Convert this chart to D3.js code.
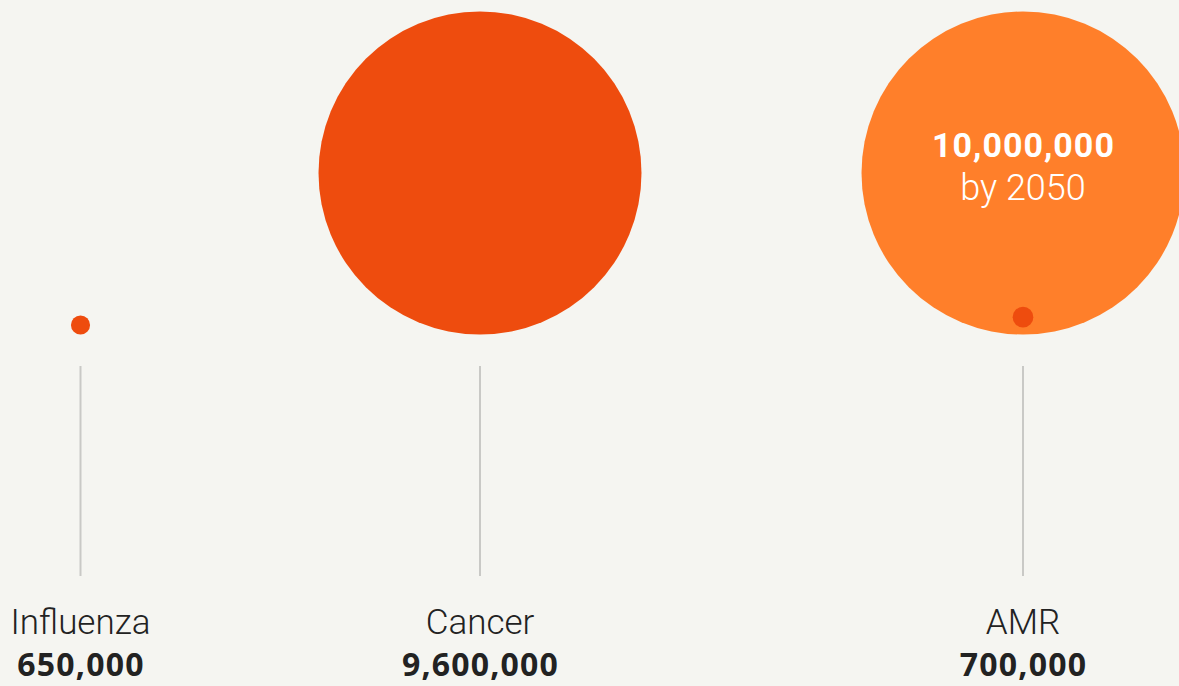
<!DOCTYPE html>
<html>
<head>
<meta charset="utf-8">
<script src="https://cdn.jsdelivr.net/npm/d3@7"></script>
<style>
  html, body { margin: 0; padding: 0; background: #f5f5f1; }
  svg { display: block; }
</style>
</head>
<body>
<div id="chart"></div>
<script>
// data
var causes = ["Influenza", "Cancer", "AMR"];
var deaths = [650000, 9600000, 700000];
var projectedCause = "AMR";
var projectedDeaths = 10000000;
var projectedLabel = "by 2050";

var svgWidth = 1179;
var svgHeight = 686;

var svg = d3.select("#chart")
  .append("svg")
  .attr("width", svgWidth)
  .attr("height", svgHeight);

var rows = causes.map(function (c, i) {
  return { cause: c, value: deaths[i] };
});

// columns are not evenly spaced in the original
var xScale = d3.scaleOrdinal()
  .domain(causes)
  .range([80.5, 480, 1023]);

// radius scale, slightly steeper than linear, capped at the max
var rScale = d3.scalePow()
  .exponent(1.05)
  .domain([0, 9600000])
  .range([0, 161.5])
  .clamp(true);

var baseline = 334.5;
var fmt = d3.format(",");

var red = "#ee4c0e";
var orange = "#ff7f2a";

// projected bubble behind
svg.append("circle")
  .attr("cx", xScale(projectedCause))
  .attr("cy", baseline - rScale(projectedDeaths))
  .attr("r", rScale(projectedDeaths))
  .attr("fill", orange);

svg.append("text")
  .attr("x", xScale(projectedCause) + 0.5)
  .attr("y", 157)
  .attr("text-anchor", "middle")
  .style("font", "bold 34px Roboto")
  .style("letter-spacing", "1px")
  .style("fill", "#fff")
  .text(fmt(projectedDeaths));

svg.append("text")
  .attr("x", xScale(projectedCause))
  .attr("y", 200)
  .attr("text-anchor", "middle")
  .style("font", "300 36px Roboto")
  .style("fill", "#fff")
  .text(projectedLabel);

// current bubbles
svg.selectAll(".bubble")
  .data(rows)
  .enter()
  .append("circle")
  .attr("class", "bubble")
  .attr("cx", d => xScale(d.cause))
  .attr("cy", d => baseline - rScale(d.value) - (d.cause === projectedCause ? 7 : 0))
  .attr("r", d => rScale(d.value))
  .attr("fill", red);

// stems
svg.selectAll(".stem")
  .data(rows)
  .enter()
  .append("line")
  .attr("x1", d => xScale(d.cause))
  .attr("x2", d => xScale(d.cause))
  .attr("y1", 366)
  .attr("y2", 576)
  .attr("stroke", "#c9c9c6")
  .attr("stroke-width", 2);

// labels
svg.selectAll(".label")
  .data(rows)
  .enter()
  .append("text")
  .attr("x", d => xScale(d.cause))
  .attr("y", 634)
  .attr("text-anchor", "middle")
  .style("font", "300 35px Roboto")
  .style("fill", "#222")
  .text(d => d.cause);

svg.selectAll(".value")
  .data(rows)
  .enter()
  .append("text")
  .attr("x", d => xScale(d.cause) + 0.5)
  .attr("y", 676)
  .attr("text-anchor", "middle")
  .style("font", "bold 32px 'Open Sans'")
  .style("letter-spacing", "1.2px")
  .style("fill", "#222")
  .text(d => fmt(d.value));
</script>
</body>
</html>
